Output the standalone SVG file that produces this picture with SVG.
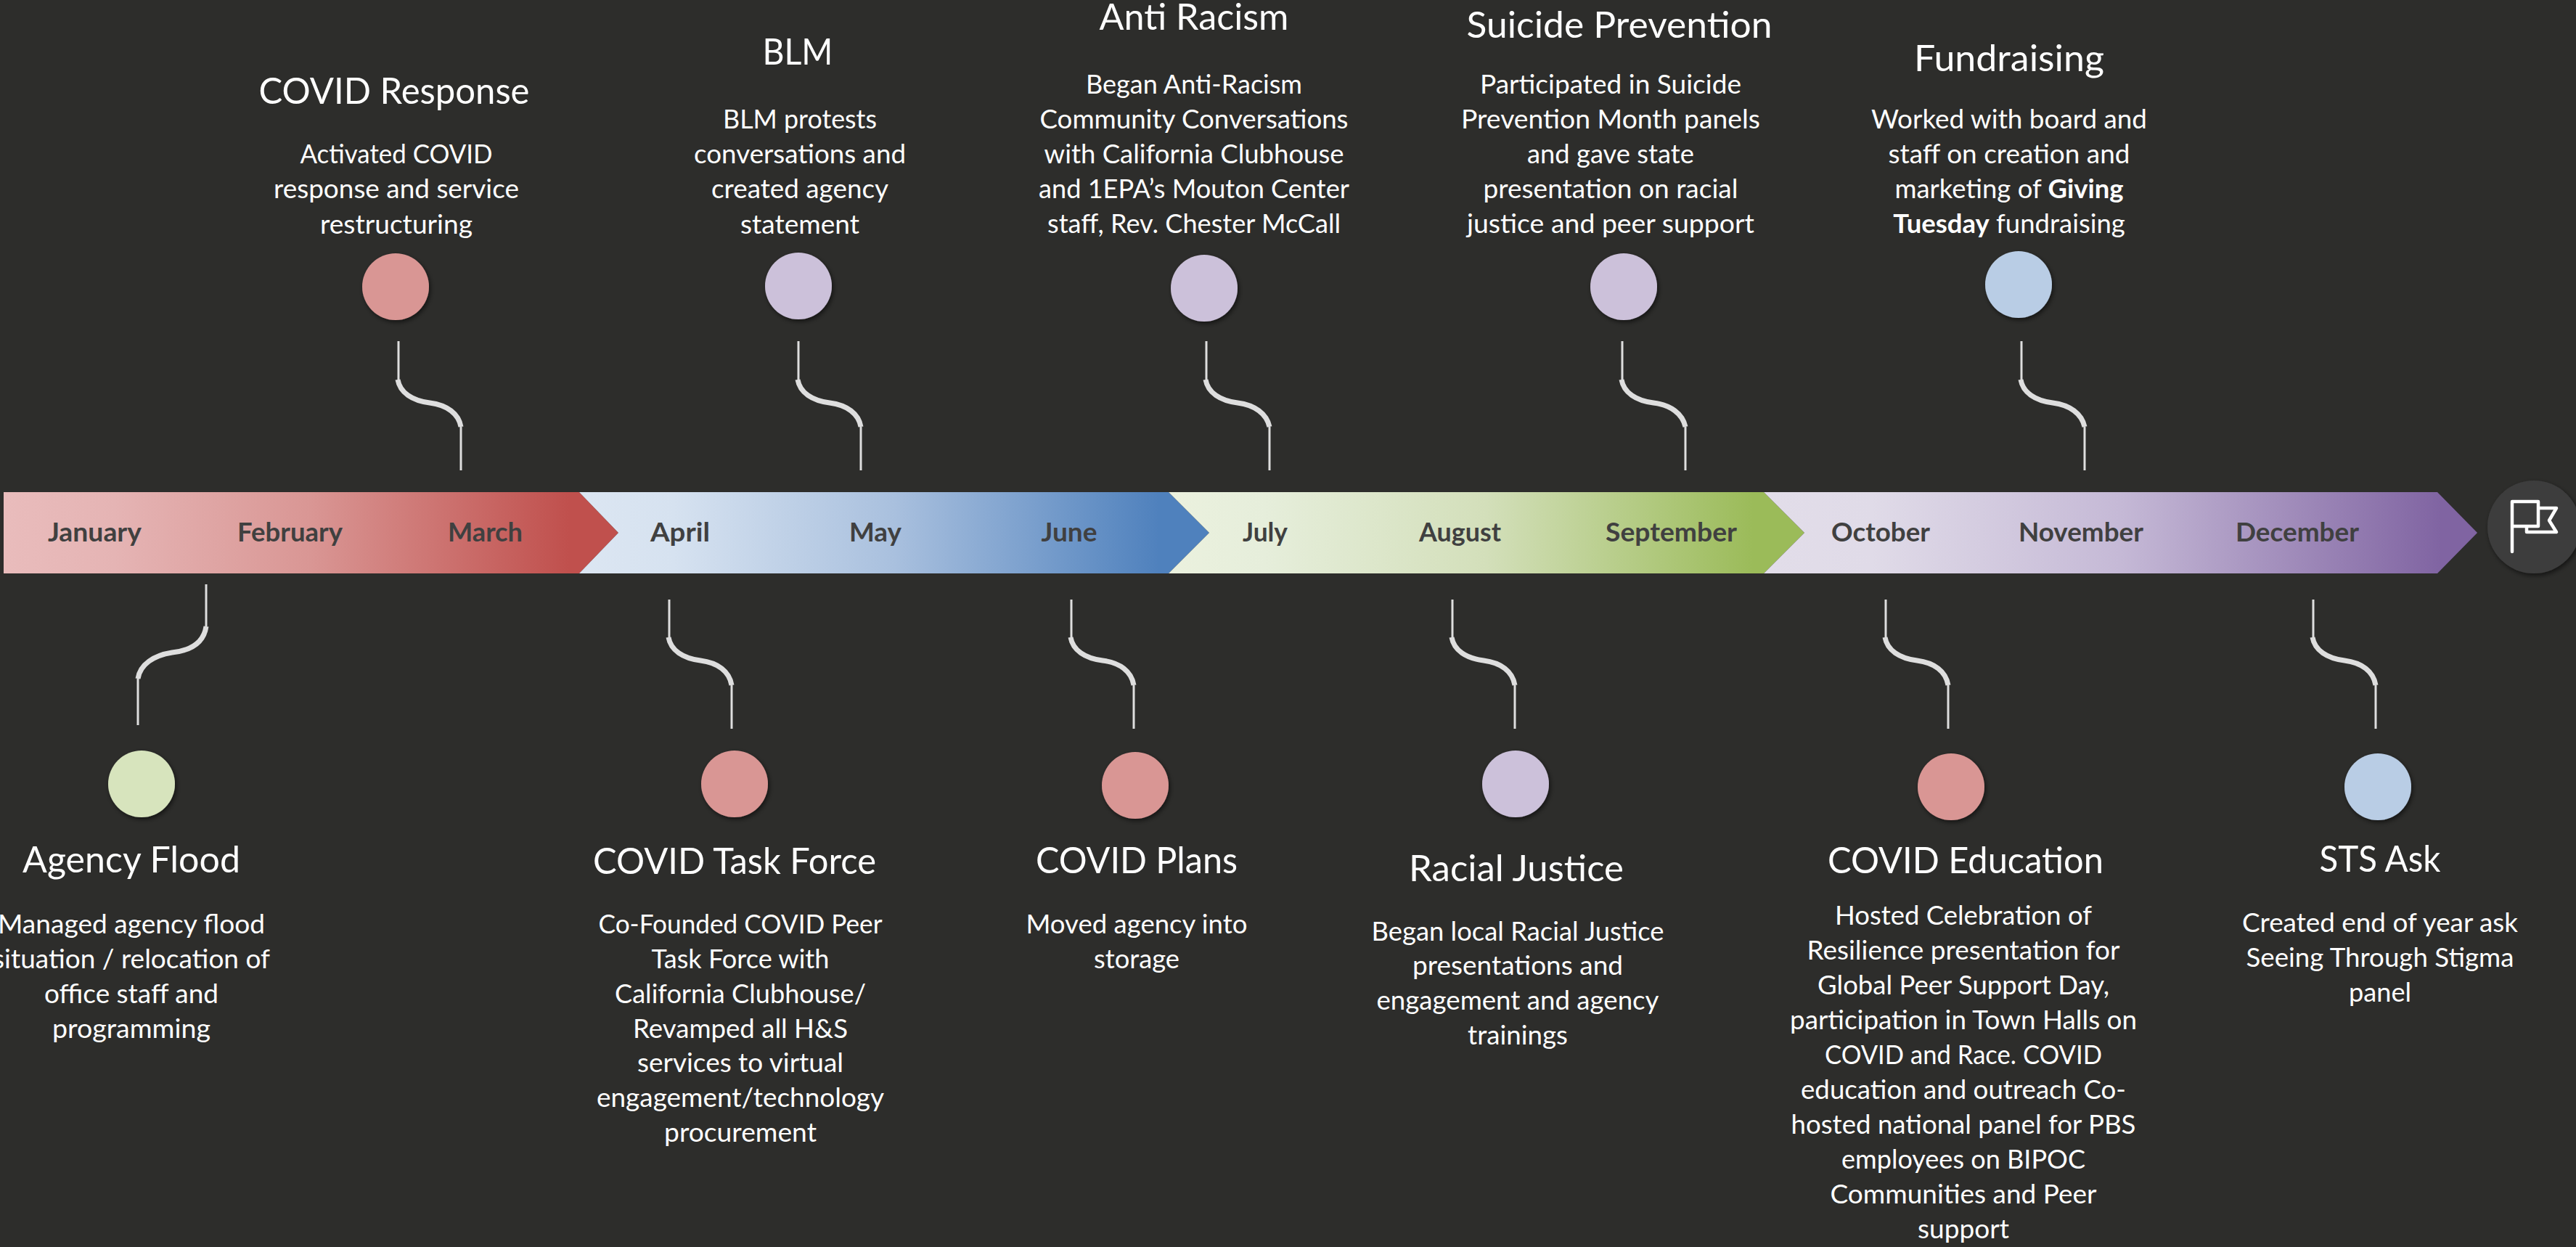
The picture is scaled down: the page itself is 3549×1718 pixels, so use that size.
<svg xmlns="http://www.w3.org/2000/svg" width="3549" height="1718" viewBox="0 0 3549 1718">
<style>
text{font-family:"Lato","Carlito","Open Sans",sans-serif;text-anchor:middle;fill:#fff;lengthAdjust:spacingAndGlyphs}
.t{font-size:50px}
.d{font-size:36.5px}
.m{font-size:36px;font-weight:700;fill:#404040}
.b{font-weight:700}
.c{fill:none;stroke:#dedede;stroke-linecap:butt}
.th{stroke-width:3}
.tk{stroke-width:7}
.dot{filter:url(#sh)}
.red{fill:#d99694}.pur{fill:#ccc1da}.blu{fill:#b9cde5}.grn{fill:#d7e4bd}
</style>
<defs>
<filter id="sh" x="-20%" y="-20%" width="150%" height="150%"><feDropShadow dx="2" dy="3" stdDeviation="3" flood-color="#000" flood-opacity=".55"/></filter>
<linearGradient id="g1"><stop offset="0" stop-color="#e9bcbc"/><stop offset=".18" stop-color="#e5b4b4"/><stop offset=".5" stop-color="#d99694"/><stop offset=".92" stop-color="#c0504d"/></linearGradient>
<linearGradient id="g2"><stop offset="0" stop-color="#dce6f2"/><stop offset=".15" stop-color="#d6e2f0"/><stop offset=".5" stop-color="#a9c0de"/><stop offset=".92" stop-color="#4f81bd"/></linearGradient>
<linearGradient id="g3"><stop offset="0" stop-color="#ebf1de"/><stop offset=".15" stop-color="#e6eedb"/><stop offset=".5" stop-color="#d3dfba"/><stop offset=".92" stop-color="#9bbb59"/></linearGradient>
<linearGradient id="g4"><stop offset="0" stop-color="#e2dde9"/><stop offset=".15" stop-color="#e0dbe8"/><stop offset=".5" stop-color="#c5b9d6"/><stop offset=".95" stop-color="#8064a2"/></linearGradient>
</defs>
<rect width="3549" height="1718" fill="#2d2d2b"/>
<g id="connectors">
<g><path class="c th" d="M549 470V523"/><path class="c tk" d="M548 523C551 541 568 552 592 555C616 558 632 570 635 588"/><path class="c th" d="M635 588V648"/></g>
<g><path class="c th" d="M1100 470V523"/><path class="c tk" d="M1099 523C1102 541 1119 552 1143 555C1167 558 1183 570 1186 588"/><path class="c th" d="M1186 588V648"/></g>
<g><path class="c th" d="M1662 470V523"/><path class="c tk" d="M1661 523C1664 541 1681 552 1705 555C1729 558 1745 570 1749 588"/><path class="c th" d="M1749 588V648"/></g>
<g><path class="c th" d="M2235 470V523"/><path class="c tk" d="M2234 523C2237 541 2254 552 2278 555C2302 558 2318 570 2322 588"/><path class="c th" d="M2322 588V648"/></g>
<g><path class="c th" d="M2785 470V523"/><path class="c tk" d="M2784 523C2787 541 2804 552 2828 555C2852 558 2868 570 2872 588"/><path class="c th" d="M2872 588V648"/></g>
<g><path class="c th" d="M284 805V863"/><path class="c tk" d="M284 863C281 884 265 896 237 899C212 903 193 915 190 935"/><path class="c th" d="M190 935V999"/></g>
<g><path class="c th" d="M922 826V878"/><path class="c tk" d="M921 878C924 896 941 907 965 910C989 913 1005 925 1008 944"/><path class="c th" d="M1008 944V1004"/></g>
<g><path class="c th" d="M1476 826V878"/><path class="c tk" d="M1475 878C1478 896 1495 907 1519 910C1543 913 1559 925 1562 944"/><path class="c th" d="M1562 944V1004"/></g>
<g><path class="c th" d="M2001 826V878"/><path class="c tk" d="M2000 878C2003 896 2020 907 2044 910C2068 913 2084 925 2087 944"/><path class="c th" d="M2087 944V1004"/></g>
<g><path class="c th" d="M2598 826V878"/><path class="c tk" d="M2597 878C2600 896 2617 907 2641 910C2665 913 2681 925 2684 944"/><path class="c th" d="M2684 944V1004"/></g>
<g><path class="c th" d="M3187 826V878"/><path class="c tk" d="M3186 878C3189 896 3206 907 3230 910C3254 913 3270 925 3273 944"/><path class="c th" d="M3273 944V1004"/></g>
</g>
<g id="bar-q1"><path fill="url(#g1)" d="M5 678H798L852 734L798 790H5Z"/><text class="m" x="130.500" y="746" textLength="129" lengthAdjust="spacingAndGlyphs">January</text><text class="m" x="399.500" y="746" textLength="145" lengthAdjust="spacingAndGlyphs">February</text><text class="m" x="668.500" y="746" textLength="103" lengthAdjust="spacingAndGlyphs">March</text></g>
<g id="bar-q2"><path fill="url(#g2)" d="M798 678H1610L1666 734L1610 790H798L852 734Z"/><text class="m" x="937" y="746" textLength="82" lengthAdjust="spacingAndGlyphs">April</text><text class="m" x="1206" y="746" textLength="72" lengthAdjust="spacingAndGlyphs">May</text><text class="m" x="1473" y="746" textLength="77" lengthAdjust="spacingAndGlyphs">June</text></g>
<g id="bar-q3"><path fill="url(#g3)" d="M1610 678H2430L2486 734L2430 790H1610L1666 734Z"/><text class="m" x="1743" y="746" textLength="62" lengthAdjust="spacingAndGlyphs">July</text><text class="m" x="2011.500" y="746" textLength="113" lengthAdjust="spacingAndGlyphs">August</text><text class="m" x="2302.500" y="746" textLength="181" lengthAdjust="spacingAndGlyphs">September</text></g>
<g id="bar-q4"><path fill="url(#g4)" d="M2430 678H3358L3413 734L3358 790H2430L2486 734Z"/><text class="m" x="2591" y="746" textLength="136" lengthAdjust="spacingAndGlyphs">October</text><text class="m" x="2867" y="746" textLength="172" lengthAdjust="spacingAndGlyphs">November</text><text class="m" x="3165" y="746" textLength="170" lengthAdjust="spacingAndGlyphs">December</text></g>
<g id="flag"><circle cx="3491" cy="726" r="64" fill="#3c3c3c" class="dot"/><path fill="none" stroke="#fff" stroke-width="4.5" stroke-linecap="round" stroke-linejoin="round" d="M3461 760V691H3497V725H3461M3497 700H3522L3512 717L3522 733H3481V725"/></g>
<g id="covid-response"><circle class="dot red" cx="545" cy="395" r="46"/><text class="t" x="543" y="143" textLength="373" lengthAdjust="spacingAndGlyphs">COVID Response</text><text class="d" x="546" y="225" textLength="265" lengthAdjust="spacingAndGlyphs">Activated COVID</text><text class="d" x="546" y="273" textLength="338" lengthAdjust="spacingAndGlyphs">response and service</text><text class="d" x="546" y="322" textLength="210" lengthAdjust="spacingAndGlyphs">restructuring</text></g>
<g id="blm"><circle class="dot pur" cx="1100" cy="394" r="46"/><text class="t" x="1099" y="89" textLength="97" lengthAdjust="spacingAndGlyphs">BLM</text><text class="d" x="1102" y="177" textLength="212" lengthAdjust="spacingAndGlyphs">BLM protests</text><text class="d" x="1102" y="225" textLength="292" lengthAdjust="spacingAndGlyphs">conversations and</text><text class="d" x="1102" y="273" textLength="244" lengthAdjust="spacingAndGlyphs">created agency</text><text class="d" x="1102" y="322" textLength="164" lengthAdjust="spacingAndGlyphs">statement</text></g>
<g id="anti-racism"><circle class="dot pur" cx="1659" cy="397" r="46"/><text class="t" x="1645" y="41" textLength="261" lengthAdjust="spacingAndGlyphs">Anti Racism</text><text class="d" x="1645" y="129" textLength="298" lengthAdjust="spacingAndGlyphs">Began Anti-Racism</text><text class="d" x="1645" y="177" textLength="425" lengthAdjust="spacingAndGlyphs">Community Conversations</text><text class="d" x="1645" y="225" textLength="413" lengthAdjust="spacingAndGlyphs">with California Clubhouse</text><text class="d" x="1645" y="273" textLength="428" lengthAdjust="spacingAndGlyphs">and 1EPA’s Mouton Center</text><text class="d" x="1645" y="321" textLength="404" lengthAdjust="spacingAndGlyphs">staff, Rev. Chester McCall</text></g>
<g id="suicide-prevention"><circle class="dot pur" cx="2237" cy="395" r="46"/><text class="t" x="2231" y="52" textLength="421" lengthAdjust="spacingAndGlyphs">Suicide Prevention</text><text class="d" x="2219" y="129" textLength="360" lengthAdjust="spacingAndGlyphs">Participated in Suicide</text><text class="d" x="2219" y="177" textLength="412" lengthAdjust="spacingAndGlyphs">Prevention Month panels</text><text class="d" x="2219" y="225" textLength="230" lengthAdjust="spacingAndGlyphs">and gave state</text><text class="d" x="2219" y="273" textLength="351" lengthAdjust="spacingAndGlyphs">presentation on racial</text><text class="d" x="2219" y="321" textLength="396" lengthAdjust="spacingAndGlyphs">justice and peer support</text></g>
<g id="fundraising"><circle class="dot blu" cx="2781" cy="392" r="46"/><text class="t" x="2768" y="98" textLength="262" lengthAdjust="spacingAndGlyphs">Fundraising</text><text class="d" x="2768" y="177" textLength="380" lengthAdjust="spacingAndGlyphs">Worked with board and</text><text class="d" x="2768" y="225" textLength="333" lengthAdjust="spacingAndGlyphs">staff on creation and</text><text class="d" x="2768" y="273">marketing of <tspan class="b">Giving</tspan></text><text class="d" x="2768" y="321"><tspan class="b">Tuesday</tspan> fundraising</text></g>
<g id="agency-flood"><circle class="dot grn" cx="195" cy="1080" r="46"/><text class="t" x="181" y="1202" textLength="300" lengthAdjust="spacingAndGlyphs">Agency Flood</text><text class="d" x="181" y="1286" textLength="368" lengthAdjust="spacingAndGlyphs">Managed agency flood</text><text class="d" x="181" y="1334" textLength="382" lengthAdjust="spacingAndGlyphs">situation / relocation of</text><text class="d" x="181" y="1382" textLength="240" lengthAdjust="spacingAndGlyphs">office staff and</text><text class="d" x="181" y="1430" textLength="218" lengthAdjust="spacingAndGlyphs">programming</text></g>
<g id="covid-task-force"><circle class="dot red" cx="1012" cy="1080" r="46"/><text class="t" x="1012" y="1204" textLength="390" lengthAdjust="spacingAndGlyphs">COVID Task Force</text><text class="d" x="1020" y="1286" textLength="391" lengthAdjust="spacingAndGlyphs">Co-Founded COVID Peer</text><text class="d" x="1020" y="1334" textLength="245" lengthAdjust="spacingAndGlyphs">Task Force with</text><text class="d" x="1020" y="1382" textLength="346" lengthAdjust="spacingAndGlyphs">California Clubhouse/</text><text class="d" x="1020" y="1430" textLength="296" lengthAdjust="spacingAndGlyphs">Revamped all H&amp;S</text><text class="d" x="1020" y="1477" textLength="284" lengthAdjust="spacingAndGlyphs">services to virtual</text><text class="d" x="1020" y="1525" textLength="396" lengthAdjust="spacingAndGlyphs">engagement/technology</text><text class="d" x="1020" y="1573" textLength="210" lengthAdjust="spacingAndGlyphs">procurement</text></g>
<g id="covid-plans"><circle class="dot red" cx="1564" cy="1082" r="46"/><text class="t" x="1566" y="1203" textLength="278" lengthAdjust="spacingAndGlyphs">COVID Plans</text><text class="d" x="1566" y="1286" textLength="305" lengthAdjust="spacingAndGlyphs">Moved agency into</text><text class="d" x="1566" y="1334" textLength="118" lengthAdjust="spacingAndGlyphs">storage</text></g>
<g id="racial-justice"><circle class="dot pur" cx="2088" cy="1080" r="46"/><text class="t" x="2089" y="1214" textLength="296" lengthAdjust="spacingAndGlyphs">Racial Justice</text><text class="d" x="2091" y="1296" textLength="403" lengthAdjust="spacingAndGlyphs">Began local Racial Justice</text><text class="d" x="2091" y="1343" textLength="290" lengthAdjust="spacingAndGlyphs">presentations and</text><text class="d" x="2091" y="1391" textLength="389" lengthAdjust="spacingAndGlyphs">engagement and agency</text><text class="d" x="2091" y="1439" textLength="138" lengthAdjust="spacingAndGlyphs">trainings</text></g>
<g id="covid-education"><circle class="dot red" cx="2688" cy="1084" r="46"/><text class="t" x="2708" y="1203" textLength="380" lengthAdjust="spacingAndGlyphs">COVID Education</text><text class="d" x="2705" y="1274" textLength="354" lengthAdjust="spacingAndGlyphs">Hosted Celebration of</text><text class="d" x="2705" y="1322" textLength="431" lengthAdjust="spacingAndGlyphs">Resilience presentation for</text><text class="d" x="2705" y="1370" textLength="402" lengthAdjust="spacingAndGlyphs">Global Peer Support Day,</text><text class="d" x="2705" y="1418" textLength="478" lengthAdjust="spacingAndGlyphs">participation in Town Halls on</text><text class="d" x="2705" y="1466" textLength="382" lengthAdjust="spacingAndGlyphs">COVID and Race. COVID</text><text class="d" x="2705" y="1514" textLength="448" lengthAdjust="spacingAndGlyphs">education and outreach Co-</text><text class="d" x="2705" y="1562" textLength="475" lengthAdjust="spacingAndGlyphs">hosted national panel for PBS</text><text class="d" x="2705" y="1610" textLength="336" lengthAdjust="spacingAndGlyphs">employees on BIPOC</text><text class="d" x="2705" y="1658" textLength="367" lengthAdjust="spacingAndGlyphs">Communities and Peer</text><text class="d" x="2705" y="1706" textLength="126" lengthAdjust="spacingAndGlyphs">support</text></g>
<g id="sts-ask"><circle class="dot blu" cx="3276" cy="1084" r="46"/><text class="t" x="3279" y="1201" textLength="167" lengthAdjust="spacingAndGlyphs">STS Ask</text><text class="d" x="3279" y="1284" textLength="380" lengthAdjust="spacingAndGlyphs">Created end of year ask</text><text class="d" x="3279" y="1332" textLength="369" lengthAdjust="spacingAndGlyphs">Seeing Through Stigma</text><text class="d" x="3279" y="1380" textLength="86" lengthAdjust="spacingAndGlyphs">panel</text></g>
</svg>
